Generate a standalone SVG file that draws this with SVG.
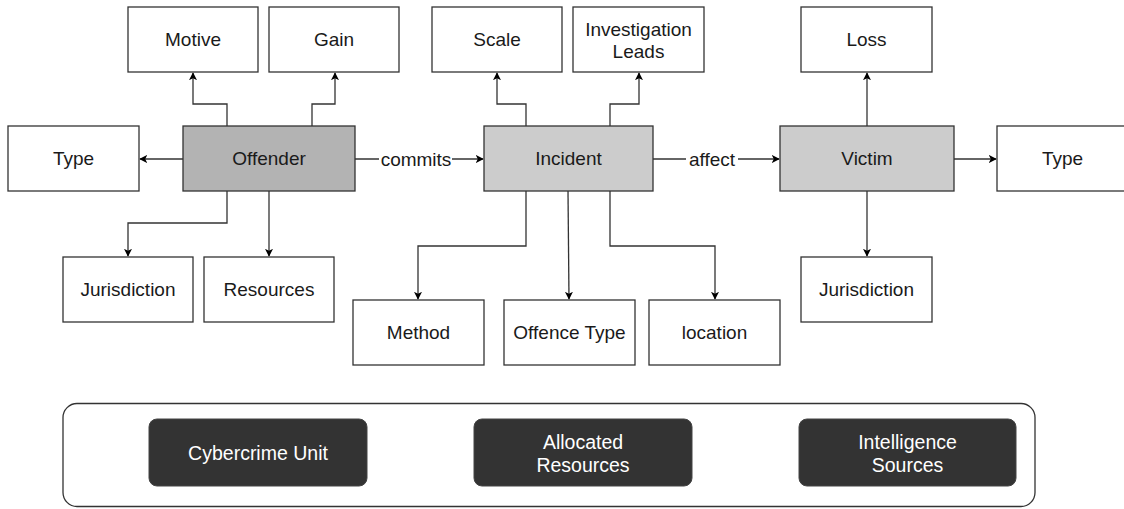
<svg xmlns="http://www.w3.org/2000/svg" width="1124" height="509" viewBox="0 0 1124 509">
  <style>
    .box { fill: #ffffff; stroke: #333333; stroke-width: 1.3; }
    .offender { fill: #b3b3b3; stroke: #333333; stroke-width: 1.3; }
    .entity { fill: #cccccc; stroke: #333333; stroke-width: 1.3; }
    .label { font-family: "Liberation Sans", Arial, Helvetica, sans-serif; font-size: 19px; fill: #1a1a1a; text-anchor: middle; dominant-baseline: central; }
    .edge { fill: none; stroke: #333333; stroke-width: 1.3; marker-end: url(#arrow); }
    .edge-label { font-family: "Liberation Sans", Arial, Helvetica, sans-serif; font-size: 19px; fill: #1a1a1a; text-anchor: middle; dominant-baseline: central; }
    .panel { fill: #ffffff; stroke: #333333; stroke-width: 1.3; }
    .resource { fill: #333333; stroke: #444444; stroke-width: 1; }
    .resource-label { font-family: "Liberation Sans", Arial, Helvetica, sans-serif; font-size: 19.5px; fill: #ffffff; text-anchor: middle; dominant-baseline: central; }
  </style>
  <defs>
    <marker id="arrow" viewBox="0 0 10 10" refX="9" refY="5" markerWidth="8" markerHeight="8" markerUnits="userSpaceOnUse" orient="auto">
      <path d="M0,0 L10,5 L0,10 L2.5,5 z" fill="#000000"/>
    </marker>
  </defs>

  <!-- connectors -->
  <g id="connectors">
    <!-- Offender -->
    <path class="edge" d="M227,126 V104 H193 V73"/>
    <path class="edge" d="M312,126 V104 H335 V73"/>
    <path class="edge" d="M183,159 H140"/>
    <path class="edge" d="M227,191 V223 H128 V256"/>
    <path class="edge" d="M269,191 V256"/>
    <!-- Offender to Incident -->
    <path class="edge" d="M355,159 H483"/>
    <rect x="379" y="148" width="73" height="22" fill="#ffffff"/>
    <text class="edge-label" x="416" y="159">commits</text>
    <!-- Incident -->
    <path class="edge" d="M526,126 V104 H497 V73"/>
    <path class="edge" d="M610,126 V104 H639 V73"/>
    <path class="edge" d="M526,191 V246 H418 V299"/>
    <path class="edge" d="M568,191 L569,299"/>
    <path class="edge" d="M610,191 V246 H715 V299"/>
    <!-- Incident to Victim -->
    <path class="edge" d="M653,159 H779"/>
    <rect x="686" y="148" width="52" height="22" fill="#ffffff"/>
    <text class="edge-label" x="712" y="159">affect</text>
    <!-- Victim -->
    <path class="edge" d="M867,126 V73"/>
    <path class="edge" d="M954,159 H996"/>
    <path class="edge" d="M867,191 V256"/>
  </g>

  <!-- offender and its attributes -->
  <g id="offender">
    <rect class="offender" x="183" y="126" width="172" height="65"/>
    <text class="label" x="269" y="158.5">Offender</text>
  </g>
  <g id="offender-motive">
    <rect class="box" x="128" y="7" width="130" height="65"/>
    <text class="label" x="193" y="39.5">Motive</text>
  </g>
  <g id="offender-gain">
    <rect class="box" x="269" y="7" width="130" height="65"/>
    <text class="label" x="334" y="39.5">Gain</text>
  </g>
  <g id="offender-type">
    <rect class="box" x="8" y="126" width="131" height="65"/>
    <text class="label" x="73.5" y="158.5">Type</text>
  </g>
  <g id="offender-jurisdiction">
    <rect class="box" x="63" y="257" width="130" height="65"/>
    <text class="label" x="128" y="289.5">Jurisdiction</text>
  </g>
  <g id="offender-resources">
    <rect class="box" x="204" y="257" width="130" height="65"/>
    <text class="label" x="269" y="289.5">Resources</text>
  </g>

  <!-- incident and its attributes -->
  <g id="incident">
    <rect class="entity" x="484" y="126" width="169" height="65"/>
    <text class="label" x="568.5" y="158.5">Incident</text>
  </g>
  <g id="incident-scale">
    <rect class="box" x="432" y="7" width="130" height="65"/>
    <text class="label" x="497" y="39.5">Scale</text>
  </g>
  <g id="incident-leads">
    <rect class="box" x="573" y="7" width="131" height="65"/>
    <text class="label" x="638.5" y="29">Investigation</text>
    <text class="label" x="638.5" y="51">Leads</text>
  </g>
  <g id="incident-method">
    <rect class="box" x="353" y="300" width="131" height="65"/>
    <text class="label" x="418.5" y="332.5">Method</text>
  </g>
  <g id="incident-offence-type">
    <rect class="box" x="504" y="300" width="131" height="65"/>
    <text class="label" x="569.5" y="332.5">Offence Type</text>
  </g>
  <g id="incident-location">
    <rect class="box" x="649" y="300" width="131" height="65"/>
    <text class="label" x="714.5" y="332.5">location</text>
  </g>

  <!-- victim and its attributes -->
  <g id="victim">
    <rect class="entity" x="780" y="126" width="174" height="65"/>
    <text class="label" x="867" y="158.5">Victim</text>
  </g>
  <g id="victim-loss">
    <rect class="box" x="801" y="7" width="131" height="65"/>
    <text class="label" x="866.5" y="39.5">Loss</text>
  </g>
  <g id="victim-type">
    <rect class="box" x="997" y="126" width="131" height="65"/>
    <text class="label" x="1062.5" y="158.5">Type</text>
  </g>
  <g id="victim-jurisdiction">
    <rect class="box" x="801" y="257" width="131" height="65"/>
    <text class="label" x="866.5" y="289.5">Jurisdiction</text>
  </g>

  <!-- investigative capacity panel -->
  <g id="capacity-panel">
    <rect class="panel" x="63" y="403.5" width="972" height="103" rx="14" ry="14"/>
  </g>
  <g id="cybercrime-unit">
    <rect class="resource" x="149" y="419" width="218" height="67" rx="8" ry="8"/>
    <text class="resource-label" x="258" y="452.5">Cybercrime Unit</text>
  </g>
  <g id="allocated-resources">
    <rect class="resource" x="474" y="419" width="218" height="67" rx="8" ry="8"/>
    <text class="resource-label" x="583" y="441.5">Allocated</text>
    <text class="resource-label" x="583" y="464.5">Resources</text>
  </g>
  <g id="intelligence-sources">
    <rect class="resource" x="799" y="419" width="217" height="67" rx="8" ry="8"/>
    <text class="resource-label" x="907.5" y="441.5">Intelligence</text>
    <text class="resource-label" x="907.5" y="464.5">Sources</text>
  </g>
</svg>
